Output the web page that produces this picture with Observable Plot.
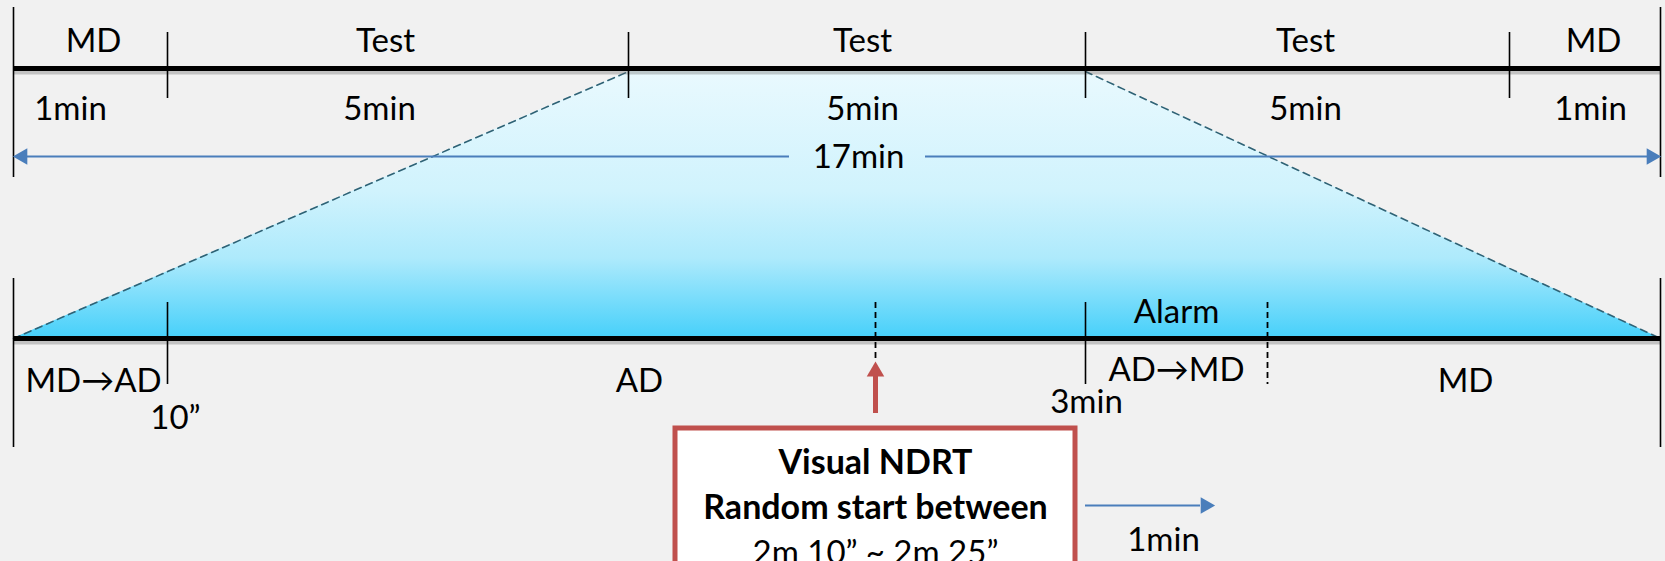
<!DOCTYPE html>
<html><head><meta charset="utf-8">
<script src="https://cdn.jsdelivr.net/npm/d3@7"></script>
<script src="https://cdn.jsdelivr.net/npm/@observablehq/plot@0.6"></script>
<style>
html,body{margin:0;padding:0;background:#f1f1f1;overflow:hidden;}
</style></head><body><div id="chart"></div>
<script>
const W = 1665, H = 561;

// ---- Top timeline (whole session) ----
const topBounds = [13, 167, 628, 1085, 1509, 1660];
const topOuter = [13, 1660];
const topPhaseNames = ["MD", "Test", "Test", "Test", "MD"];
const topPhaseX = [93, 385, 862, 1305, 1593];
const topDurations = ["1min", "5min", "5min", "5min", "1min"];
const topDurationX = [70, 379, 862, 1305, 1590];
const totalLabel = "17min";
const totalLabelX = 858;

// ---- Lower timeline (one test) ----
const lowSolidTicks = [167, 1085];
const lowDashedTicks = [875, 1267];
const lowLabels = [
  {text: "MD→AD", x: 93, y: 381},
  {text: "10”", x: 175, y: 418},
  {text: "AD", x: 639, y: 381},
  {text: "3min", x: 1086, y: 402},
  {text: "Alarm", x: 1176, y: 312},
  {text: "AD→MD", x: 1176, y: 370},
  {text: "MD", x: 1465, y: 381}
];

// ---- Trapezoid (automation ramp) ----
const trapX = [13, 628, 1085, 1660];
const trapTop = [338, 71, 71, 338];

// ---- NDRT box ----
const boxBold = ["Visual NDRT", "Random start between"];
const boxBoldY = [463, 508];
const boxPlain = ["2m 10” ~ 2m 25”"];
const boxPlainY = [553];
const oneMinLabel = "1min";

const trap = trapX.map((x, i) => ({x, y: trapTop[i], base: 338}));
const edges = [
  {x: trapX[0], y: trapTop[0], s: "L"}, {x: trapX[1], y: trapTop[1], s: "L"},
  {x: trapX[2], y: trapTop[2], s: "R"}, {x: trapX[3], y: trapTop[3], s: "R"}
];
const font = "Lato, 'Open Sans', sans-serif";
const fs = 33;
const blue = "#4a7ebb", red = "#c0504d";

const plot = Plot.plot({
  width: W, height: H, margin: 0,
  x: {domain: [0, W], range: [0, W], axis: null},
  y: {domain: [0, H], range: [0, H], axis: null},
  style: {background: "#f1f1f1", overflow: "hidden"},
  marks: [
    Plot.areaY(trap, {x: "x", y1: "base", y2: "y", fill: "url(#fade)"}),
    Plot.line(edges, {x: "x", y: "y", z: "s", stroke: "#2f6275", strokeWidth: 1.6, strokeDasharray: "7,5"}),
    // shadows
    Plot.ruleY([72, 342], {x1: 13, x2: 1660, stroke: "#555", strokeOpacity: 0.3, strokeWidth: 4, ariaLabel: "shadow"}),
    // thick timelines
    Plot.ruleY([68, 338], {x1: 13, x2: 1660, stroke: "black", strokeWidth: 5}),
    // top ticks
    Plot.ruleX(topBounds.slice(1, -1), {y1: 32, y2: 98, stroke: "black", strokeWidth: 1.6}),
    Plot.ruleX(topOuter, {y1: 7, y2: 177, stroke: "black", strokeWidth: 1.6}),
    // lower ticks
    Plot.ruleX(topOuter, {y1: 278, y2: 447, stroke: "black", strokeWidth: 1.6}),
    Plot.ruleX(lowSolidTicks, {y1: 302, y2: 384, stroke: "black", strokeWidth: 1.6}),
    Plot.ruleX([lowDashedTicks[0]], {y1: 302, y2: 358, stroke: "black", strokeWidth: 1.8, strokeDasharray: "6,4"}),
    Plot.ruleX([lowDashedTicks[1]], {y1: 302, y2: 384, stroke: "black", strokeWidth: 1.8, strokeDasharray: "6,4"}),
    // 17min arrow
    Plot.ruleY([156], {x1: 18, x2: 789, stroke: blue, strokeWidth: 2.2}),
    Plot.ruleY([156], {x1: 925, x2: 1655, stroke: blue, strokeWidth: 2.2}),
    Plot.dot([{x: 22, r: -90}, {x: 1651, r: 90}], {x: "x", y: () => 156, symbol: "triangle", r: 6.2, fill: blue, stroke: "none", rotate: "r"}),
    // top texts
    Plot.text(topPhaseNames, {x: (d, i) => topPhaseX[i], y: () => 41, text: d => d, fontSize: fs, fontFamily: font, fill: "black"}),
    Plot.text(topDurations, {x: (d, i) => topDurationX[i], y: () => 109, text: d => d, fontSize: fs, fontFamily: font, fill: "black"}),
    Plot.text([totalLabel], {x: () => totalLabelX, y: () => 157, text: d => d, fontSize: fs, fontFamily: font, fill: "black"}),
    // lower texts
    Plot.text(lowLabels, {x: "x", y: "y", text: "text", fontSize: fs, fontFamily: font, fill: "black"}),
    // red arrow
    Plot.ruleX([875], {y1: 413, y2: 372, stroke: red, strokeWidth: 5}),
    Plot.dot([875], {x: d => d, y: () => 371, symbol: "triangle", r: 6.5, fill: red, stroke: "none"}),
    // NDRT box
    Plot.rect([0], {x1: () => 675, x2: () => 1075, y1: () => 428, y2: () => 600, fill: "white", stroke: red, strokeWidth: 5}),
    Plot.text(boxBold, {x: () => 875, y: (d, i) => boxBoldY[i], text: d => d, fontSize: 34, fontFamily: font, fontWeight: "bold", fill: "black"}),
    Plot.text(boxPlain, {x: () => 875, y: (d, i) => boxPlainY[i], text: d => d, fontSize: fs, fontFamily: font, fill: "black"}),
    // 1min arrow
    Plot.ruleY([505], {x1: 1085, x2: 1200, stroke: blue, strokeWidth: 2.2}),
    Plot.dot([1205], {x: d => d, y: () => 505, symbol: "triangle", r: 6.2, fill: blue, stroke: "none", rotate: 90}),
    Plot.text([oneMinLabel], {x: () => 1163, y: () => 540, text: d => d, fontSize: fs, fontFamily: font, fill: "black"})
  ]
});

const svg = d3.select(plot);
const defs = svg.insert("defs", ":first-child");
const g = defs.append("linearGradient").attr("id", "fade")
  .attr("gradientUnits", "userSpaceOnUse").attr("x1", 0).attr("x2", 0).attr("y1", 71).attr("y2", 338);
[[0, "#e9f9fe"], [0.45, "#d0f3fd"], [0.7, "#aeeafc"], [1, "#46d0fa"]].forEach(([o, c]) =>
  g.append("stop").attr("offset", o).attr("stop-color", c));
const f = defs.append("filter").attr("id", "blur").attr("x", "-5%").attr("y", "-200%").attr("width", "110%").attr("height", "500%");
f.append("feGaussianBlur").attr("stdDeviation", 2);
svg.selectAll('[aria-label="shadow"]').attr("filter", "url(#blur)");
document.getElementById("chart").appendChild(plot);
</script>
</body></html>
